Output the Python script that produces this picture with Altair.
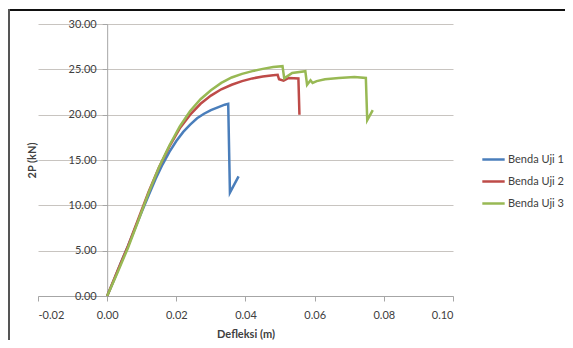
import altair as alt
import pandas as pd

series_names = ["Benda Uji 1", "Benda Uji 2", "Benda Uji 3"]
colors = ["#4a7ebb", "#be4b48", "#98b954"]

# Benda Uji 1
x1 = [0.0, 0.002, 0.004, 0.006, 0.008, 0.010, 0.012, 0.014, 0.016, 0.018, 0.020,
      0.022, 0.024, 0.026, 0.028, 0.030, 0.032, 0.034, 0.0350, 0.0355, 0.0380]
y1 = [0.0, 1.8, 3.7, 5.5, 7.4, 9.3, 11.1, 12.9, 14.5, 15.9, 17.1,
      18.1, 18.9, 19.6, 20.1, 20.5, 20.8, 21.1, 21.2, 11.4, 13.2]

# Benda Uji 2
x2 = [0.0, 0.003, 0.006, 0.009, 0.012, 0.015, 0.018, 0.021, 0.024, 0.027, 0.030,
      0.033, 0.036, 0.039, 0.042, 0.045, 0.048, 0.0493, 0.0497, 0.0510, 0.0525,
      0.0553, 0.0556]
y2 = [0.0, 2.8, 5.5, 8.5, 11.5, 14.2, 16.5, 18.5, 20.0, 21.2, 22.1,
      22.8, 23.3, 23.7, 24.0, 24.2, 24.35, 24.4, 23.9, 23.75, 24.05,
      24.0, 20.0]

# Benda Uji 3
x3 = [0.0, 0.003, 0.006, 0.009, 0.012, 0.015, 0.018, 0.021, 0.024, 0.027, 0.030,
      0.033, 0.036, 0.039, 0.042, 0.045, 0.048, 0.0507, 0.0512, 0.0535, 0.0573,
      0.0578, 0.0588, 0.0594, 0.0606, 0.0630, 0.0670, 0.0715, 0.0748, 0.0752, 0.0768]
y3 = [0.0, 2.6, 5.3, 8.3, 11.4, 14.2, 16.6, 18.7, 20.4, 21.7, 22.7,
      23.5, 24.1, 24.5, 24.8, 25.05, 25.25, 25.35, 24.0, 24.6, 24.8,
      23.3, 23.8, 23.5, 23.7, 23.9, 24.05, 24.15, 24.05, 19.4, 20.5]

x_ticks = [-0.02, 0.0, 0.02, 0.04, 0.06, 0.08, 0.10]
y_ticks = [0, 5, 10, 15, 20, 25, 30]

rows = []
for name, xs, ys in zip(series_names, [x1, x2, x3], [y1, y2, y3]):
    for i, (xv, yv) in enumerate(zip(xs, ys)):
        rows.append({"series": name, "x": xv, "y": yv, "i": i})
df = pd.DataFrame(rows)

W, H = 415, 272
FONT = "Lato"
label_expr = "(datum.value < -1e-9 ? '-' : '') + format(abs(datum.value), '.2f')"

lines = alt.Chart(df).mark_line(strokeWidth=2.5, clip=False).encode(
    x=alt.X("x:Q",
            scale=alt.Scale(domain=[-0.02, 0.10], nice=False, zero=False),
            axis=alt.Axis(values=x_ticks, labelExpr=label_expr, title="Defleksi (m)",
                          grid=False, tickSize=5, labelPadding=8, titlePadding=8,
                          domainColor="#a6a6a6", tickColor="#a6a6a6")),
    y=alt.Y("y:Q",
            scale=alt.Scale(domain=[0, 30], nice=False),
            axis=alt.Axis(values=y_ticks, labelExpr="format(datum.value, '.2f')",
                          title="2P (kN)", grid=True, gridColor="#c8c4c0",
                          tickSize=5, labelPadding=6,
                          offset=-W * (0.02 / 0.12),
                          titleX=-75, titleY=H / 2, titleAngle=-90,
                          titleAlign="center", titleBaseline="middle",
                          domainColor="#a6a6a6", tickColor="#a6a6a6")),
    color=alt.Color("series:N",
                    scale=alt.Scale(domain=series_names, range=colors),
                    legend=alt.Legend(title=None, orient="none", legendX=443, legendY=123,
                                      symbolType="stroke", symbolSize=500,
                                      symbolStrokeWidth=2.5, labelFontSize=11,
                                      labelFont=FONT, labelColor="#404040",
                                      rowPadding=4, labelOffset=2)),
    order="i:Q",
)

frame_df = pd.DataFrame({"a": [0]})
top_line = alt.Chart(frame_df).mark_rule(color="#111111", strokeWidth=2).encode(
    x=alt.value(-30), x2=alt.value(W + 112), y=alt.value(-14))
left_line = alt.Chart(frame_df).mark_rule(color="#555555", strokeWidth=2).encode(
    x=alt.value(-29), y=alt.value(-15), y2=alt.value(H + 44))

chart = alt.layer(top_line, left_line, lines).properties(
    width=W, height=H,
    autosize=alt.AutoSizeParams(type="none"),
    padding={"left": 30, "top": 16, "right": 112, "bottom": 44},
    background="white",
).configure_view(stroke=None).configure_axis(
    labelFont=FONT, titleFont=FONT, labelFontSize=11, titleFontSize=11,
    labelColor="#404040", titleColor="#404040", titleFontWeight="bold",
)

chart.save("out.html", embed_options={"renderer": "svg", "actions": False})
